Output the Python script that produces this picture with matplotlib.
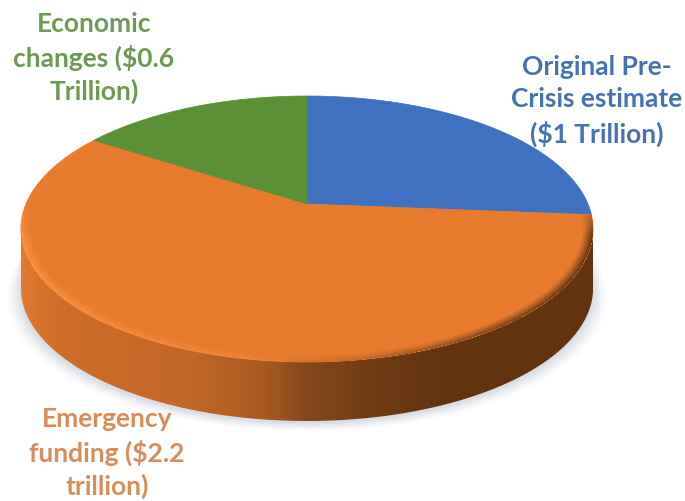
import numpy as np
import matplotlib
matplotlib.use("Agg")
import matplotlib.pyplot as plt
from matplotlib.colors import LinearSegmentedColormap
from matplotlib.patches import Polygon

# Funding sources, in trillions of dollars
labels = ["Original Pre-\nCrisis estimate\n(\\$1 Trillion)",
          "Emergency\nfunding (\\$2.2\ntrillion)",
          "Economic\nchanges (\\$0.6\nTrillion)"]
values = [1.0, 2.2, 0.6]
colors = ["#4070C0", "#E97B2F", "#5B9036"]
label_colors = ["#4472B4", "#D98C58", "#6C9A52"]
label_xy = [(597, 101), (107, 453), (94, 58)]

# Perspective view of a tilted disc, in pixel coordinates
CX, CY, A, B, K, DEPTH = 307, 205, 281, 128.3, 0.188, 59
W, H = 685, 502


def project(theta, r=1.0, drop=0.0):
    """theta runs clockwise from twelve o'clock on the unit disc."""
    u, v = r * np.sin(theta), r * np.cos(theta)
    w = 1 + K * v
    return np.column_stack([CX + A * u / w, CY - B * v / w + drop])


def unproject(x, y):
    """Pixel position back to radius and clockwise angle on the disc."""
    t = (CY - y) / B
    v = t / (1 - K * t)
    u = (x - CX) * (1 + K * v) / A
    return np.hypot(u, v), np.mod(np.arctan2(u, v), 2 * np.pi)


fig = plt.figure(figsize=(W / 100, H / 100), dpi=100)
ax = fig.add_axes([0, 0, 1, 1])

fractions = np.array(values) / sum(values)
edges = np.concatenate([[0], np.cumsum(fractions)]) * 2 * np.pi
full = np.linspace(0, 2 * np.pi, 721)

# Soft cast shadow under the disc
for grow, alpha in zip(np.linspace(15, 1, 10), np.linspace(0.012, 0.05, 10)):
    outline = project(full, drop=DEPTH + 2)
    outline[:, 0] = CX + (outline[:, 0] - CX) * (1 + grow / 285)
    outline[:, 1] += grow * 0.55
    ax.add_patch(Polygon(outline, closed=True, fc="#7F93AD", ec="none", alpha=alpha, zorder=1))

# Side wall shaded along the horizontal position, clipped to the swept silhouette
wall_cmap = LinearSegmentedColormap.from_list("wall", [
    (0.00, "#E27A30"), (0.06, "#D06E2A"), (0.30, "#C16727"), (0.42, "#A95A21"),
    (0.50, "#86491C"), (0.62, "#6E3B14"), (0.75, "#62330F"), (1.00, "#62330F")])
widest = np.arccos(-K)
ring = np.linspace(widest, 2 * np.pi - widest, 361)
rim = project(ring)
wall_outline = np.vstack([rim, rim[::-1] + [0, DEPTH]])
wall_patch = Polygon(wall_outline, closed=True, fc="none", ec="none", transform=ax.transData)
ax.add_patch(wall_patch)
wall_shade = np.linspace(0, 1, 571)[None, :]
wall = ax.imshow(wall_shade, extent=(21, 593, 430, 200), cmap=wall_cmap, vmin=0, vmax=1,
                 aspect="auto", interpolation="bilinear", zorder=2)
wall.set_clip_path(wall_patch)

# Top faces of the slices
for start, stop, colour in zip(edges[:-1], edges[1:], colors):
    arc = np.linspace(start, stop, 240)
    pts = np.vstack([[CX, CY], project(arc)])
    ax.add_patch(Polygon(pts, closed=True, fc=colour, ec=colour, lw=0.5, zorder=3))

# Bevel along the front edge of the largest slice, computed per pixel
bevel_cmap = LinearSegmentedColormap.from_list("bevel", [
    (0.00, "#F8913F"), (0.40, "#F08437"), (0.58, "#C96C28"), (0.80, "#8A4C1C"), (1.00, "#6E3B14")])
yy, xx = np.mgrid[0:H, 0:W] + 0.5
radius, angle = unproject(xx, yy)
bevel = bevel_cmap(np.clip((xx - 21) / 571, 0, 1))
fade = np.clip((radius - 0.962) / 0.034, 0, 1) ** 1.2
inside = (radius <= 1.0) & (angle > edges[1]) & (angle < edges[2])
# The bevel only shows on the side facing the viewer
facing = np.clip((np.pi / 2 - np.abs(angle - np.pi)) / 0.25, 0, 1)
bevel[..., 3] = np.where(inside, fade * facing, 0)
ax.imshow(bevel, extent=(0, W, H, 0), aspect="auto", interpolation="nearest", zorder=4)

# Slice labels
for text, colour, (x, y) in zip(labels, label_colors, label_xy):
    ax.text(x, y, text, color=colour, ha="center", va="center", fontsize=19,
            fontweight="bold", family="Lato", linespacing=1.4, zorder=6)

ax.set_xlim(0, W)
ax.set_ylim(H, 0)
ax.axis("off")
fig.savefig("out.png", dpi=100)
